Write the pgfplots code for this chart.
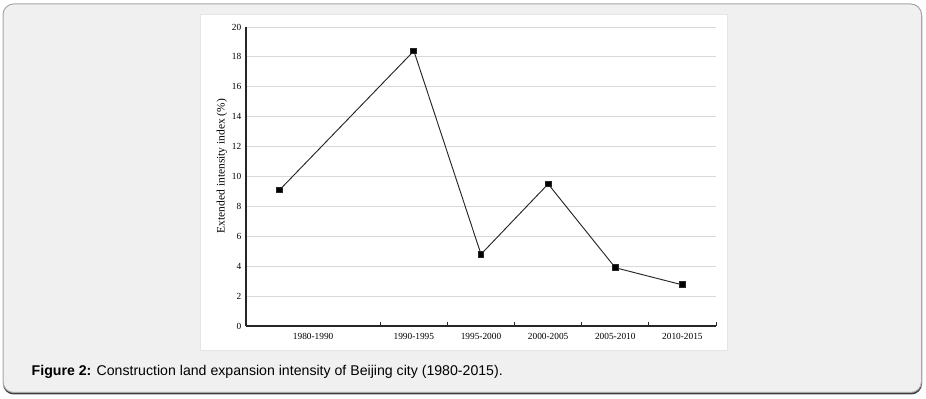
\documentclass[border=0pt]{standalone}
\usepackage{fontspec}
\setmainfont{Liberation Serif}
\newfontfamily\arial{Liberation Sans}
\usepackage{pgfplots}
\pgfplotsset{compat=1.18}
\begin{document}
\begin{tikzpicture}[x=0.75pt,y=-0.75pt]
\useasboundingbox (0,0) rectangle (926,399);
\fill[black!75, rounded corners=8pt] (3,5) rectangle (922,394.5);
\fill[gray!12, draw=gray!70, line width=0.75pt, rounded corners=8pt] (3,4) rectangle (921.5,392.5);
\fill[white, draw=gray!20, line width=0.75pt] (200,15) rectangle (727,351);
\node[rotate=90, font=\fontsize{8.6}{9}\selectfont] at (222,166) {Extended intensity index (\%)};
\node[anchor=base west, font=\arial\fontsize{10.6}{12}\selectfont] at (27,376) {\textbf{Figure 2:} Construction land expansion intensity of Beijing city (1980-2015).};
\begin{axis}[at={(184.5pt,-244.5pt)}, anchor=south west, scale only axis,
 width=352.5pt, height=224.25pt,
 xmin=1980, xmax=2015, ymin=0, ymax=20,
 axis lines*=left, axis line style={black!85, line width=0.9pt},
 ytick={0,2,...,20}, ymajorgrids, grid style={black!15, line width=0.7pt},
 xtick={1990,1995,2000,2005,2010,2015}, xticklabels={},
 tick align=inside, major tick length=3pt, tick style={black!85, line width=0.6pt},
 ytick style={draw=none},
 extra x ticks={1985,1992.5,1997.5,2002.5,2007.5,2012.5},
 extra x tick labels={1980-1990,1990-1995,1995-2000,2000-2005,2005-2010,2010-2015},
 extra x tick style={major tick length=0pt, xticklabel style={yshift=-2pt}},
 ticklabel style={font=\fontsize{7}{8}\selectfont},
 /pgf/number format/assume math mode=true,
 clip=false,
]
\addplot[black!85, line width=0.7pt, mark=square*, mark size=2.2pt, mark options={solid, fill=black}] coordinates {(1982.5,9.1)(1992.5,18.4)(1997.5,4.8)(2002.5,9.5)(2007.5,3.9)(2012.5,2.75)};
\end{axis}
\end{tikzpicture}
\end{document}
